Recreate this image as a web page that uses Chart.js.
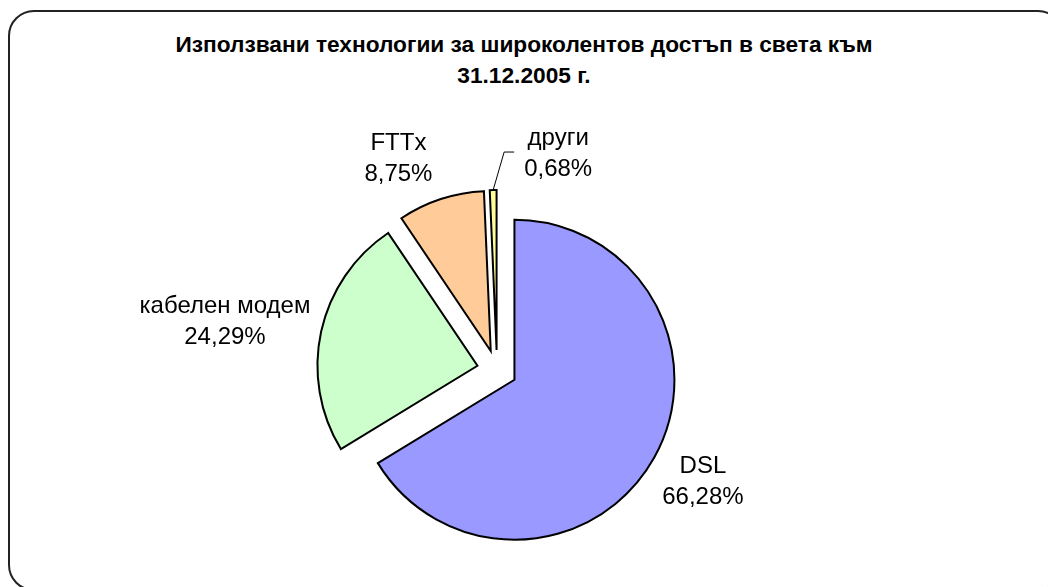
<!DOCTYPE html>
<html>
<head>
<meta charset="utf-8">
<script src="https://cdn.jsdelivr.net/npm/chart.js@4.4.0/dist/chart.umd.min.js"></script>
<style>
    html, body { margin: 0; padding: 0; width: 1048px; height: 587px; overflow: hidden; background: #fff; }
    #frame {
        position: absolute; left: 8px; top: 10px; width: 1056px; height: 581px;
        border: 2px solid #222; border-radius: 26px; box-sizing: border-box;
    }
    #title {
        position: absolute; left: 0; top: 29px; width: 1048px; text-align: center;
        font: bold 22.7px "Liberation Sans", Arial, sans-serif; line-height: 31px; color: #000;
    }
    #chart-wrap { position: absolute; left: 0; top: 0; width: 1048px; height: 587px; }
</style>
</head>
<body>
<div id="frame"></div>
<div id="title">Използвани технологии за широколентов достъп в света към<br>31.12.2005 г.</div>
<div id="chart-wrap"><canvas id="pie"></canvas></div>
<script>
// --- Data ---
const categories = ['DSL', 'кабелен модем', 'FTTx', 'други'];
const shares = [66.28, 24.29, 8.75, 0.68];
const sliceColors = ['#9999FF', '#CCFFCC', '#FFCC99', '#FFFF99'];

// --- Geometry ---
const RADIUS = 160;
const EXPLODE = 20;            // px each slice is pulled out from the centre
const LABEL_GAP = 12;
const labelNudge = [[3, 4], [-1, -4], [-28, -8], [0, 0]];
const LINE_H = 31;
const CAP_H = 17;

function pieCentre(chart) {
    const a = chart.chartArea;
    return { x: (a.left + a.right) / 2, y: (a.top + a.bottom) / 2 };
}

// pulls every slice out along its mid angle (exploded pie)
const explodeSlices = {
    id: 'explodeSlices',
    beforeDatasetDraw(chart, args) {
        const c = pieCentre(chart);
        args.meta.data.forEach(arc => {
            const mid = (arc.startAngle + arc.endAngle) / 2;
            arc.x = c.x + Math.cos(mid) * EXPLODE;
            arc.y = c.y + Math.sin(mid) * EXPLODE;
        });
    }
};

// data labels, outside end, leader line for the tiny slice
const sliceLabels = {
    id: 'sliceLabels',
    afterDatasetsDraw(chart) {
        const ctx = chart.ctx;
        const meta = chart.getDatasetMeta(0);
        const c = pieCentre(chart);
        ctx.save();
        ctx.font = '24px "Liberation Sans", Arial, sans-serif';
        ctx.fillStyle = '#000';
        ctx.textBaseline = 'alphabetic';
        meta.data.forEach((arc, i) => {
            const R = arc.outerRadius;
            const mid = (arc.startAngle + arc.endAngle) / 2;
            const dx = Math.cos(mid), dy = Math.sin(mid);
            const vx = c.x + dx * EXPLODE, vy = c.y + dy * EXPLODE;
            const lines = [categories[i], shares[i].toFixed(2).replace('.', ',') + '%'];
            const w = Math.max(...lines.map(t => ctx.measureText(t).width));
            const h = CAP_H + LINE_H;
            let cx, cy;
            if (arc.circumference < 0.1) {
                // leader line from outer edge of the slice
                const sx = vx + dx * R, sy = vy + dy * R;
                const ex = sx + 11, ey = sy - 38;
                ctx.beginPath();
                ctx.moveTo(sx, sy);
                ctx.lineTo(ex, ey);
                ctx.lineTo(ex + 10, ey);
                ctx.lineWidth = 1;
                ctx.strokeStyle = '#000';
                ctx.stroke();
                cx = ex + 20 + w / 2;
                cy = ey;
            } else {
                cx = vx + dx * (R + LABEL_GAP) + dx * w / 2 + labelNudge[i][0];
                cy = vy + dy * (R + LABEL_GAP) + dy * h / 2 + labelNudge[i][1];
            }
            ctx.textAlign = 'center';
            const top = cy - h / 2;
            ctx.fillText(lines[0], cx, top + CAP_H);
            ctx.fillText(lines[1], cx, top + CAP_H + LINE_H);
        });
        ctx.restore();
    }
};

document.addEventListener('DOMContentLoaded', () => {
    const canvas = document.getElementById('pie');
    canvas.width = 1048;
    canvas.height = 587;
    new Chart(canvas.getContext('2d'), {
        type: 'pie',
        data: {
            labels: categories,
            datasets: [{
                data: shares,
                backgroundColor: sliceColors,
                borderColor: '#000',
                borderWidth: 2,
                borderJoinStyle: 'miter',
                hoverOffset: 0
            }]
        },
        options: {
            responsive: false,
            animation: false,
            radius: RADIUS,
            layout: { padding: { left: 0, right: 54, top: 153, bottom: 0 } },
            events: [],
            plugins: {
                legend: { display: false },
                title: { display: false },
                tooltip: { enabled: false }
            }
        },
        plugins: [explodeSlices, sliceLabels]
    });
});
</script>
</body>
</html>
